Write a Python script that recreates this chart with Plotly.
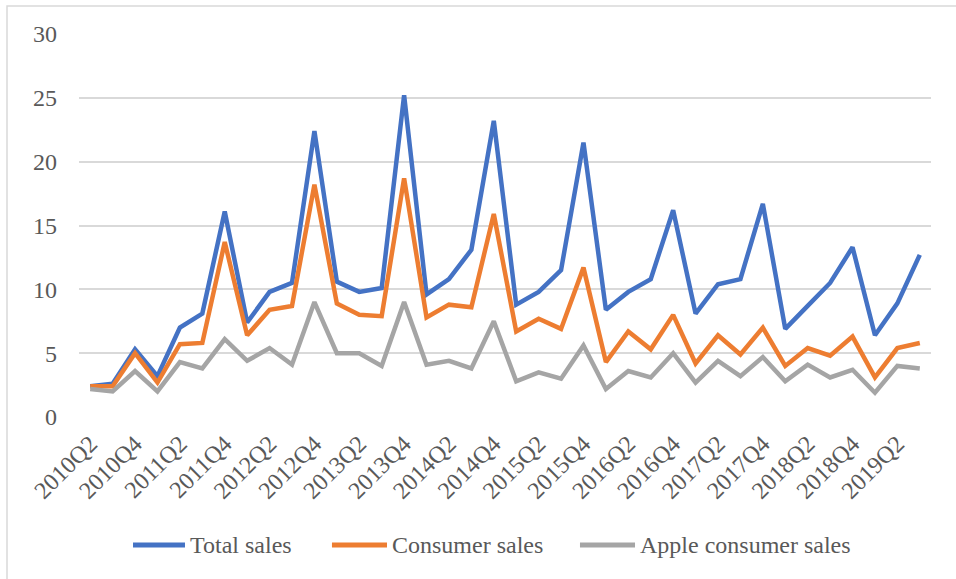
import plotly.graph_objects as go

quarters = [f"{y}Q{q}" for y in range(2010, 2020) for q in range(1, 5)][1:39]

total_sales = [2.4, 2.6, 5.3, 3.2, 7.0, 8.1, 16.1, 7.4, 9.8, 10.5,
               22.4, 10.6, 9.8, 10.1, 25.2, 9.6, 10.8, 13.1, 23.2, 8.8,
               9.8, 11.5, 21.5, 8.4, 9.8, 10.8, 16.2, 8.1, 10.4, 10.8,
               16.7, 6.9, 8.7, 10.5, 13.3, 6.4, 8.9, 12.7]
consumer_sales = [2.4, 2.4, 5.0, 2.7, 5.7, 5.8, 13.7, 6.4, 8.4, 8.7,
                  18.2, 8.9, 8.0, 7.9, 18.7, 7.8, 8.8, 8.6, 15.9, 6.7,
                  7.7, 6.9, 11.7, 4.3, 6.7, 5.3, 8.0, 4.2, 6.4, 4.9,
                  7.0, 4.0, 5.4, 4.8, 6.3, 3.1, 5.4, 5.8]
apple_consumer_sales = [2.2, 2.0, 3.6, 2.0, 4.3, 3.8, 6.1, 4.4, 5.4, 4.1,
                        9.0, 5.0, 5.0, 4.0, 9.0, 4.1, 4.4, 3.8, 7.5, 2.8,
                        3.5, 3.0, 5.6, 2.2, 3.6, 3.1, 5.0, 2.7, 4.4, 3.2,
                        4.7, 2.8, 4.1, 3.1, 3.7, 1.9, 4.0, 3.8]
y_ticks = [0, 5, 10, 15, 20, 25, 30]

series_names = ["Total sales", "Consumer sales", "Apple consumer sales"]
series_values = [total_sales, consumer_sales, apple_consumer_sales]
series_colors = ["#4472C4", "#ED7D31", "#A5A5A5"]

fig = go.Figure()
for name, vals, color in zip(series_names, series_values, series_colors):
    fig.add_trace(go.Scatter(x=quarters, y=vals, name=name, mode="lines",
                             line=dict(color=color, width=4.5), showlegend=False))

font_family = "Liberation Serif"
text_color = "#595959"
fig.update_layout(
    width=956, height=579,
    margin=dict(l=79, r=25, t=34, b=162),
    paper_bgcolor="white", plot_bgcolor="white",
    font=dict(family=font_family, size=24, color=text_color),
    showlegend=False,
    xaxis=dict(type="category", categoryorder="array", categoryarray=quarters,
               tickmode="array", tickvals=quarters[::2], tickangle=-45,
               showgrid=False, zeroline=False, showline=False, ticks="",
               ticklabelstandoff=7,
               range=[-0.5, len(quarters) - 0.5],
               tickfont=dict(family=font_family, size=24, color=text_color)),
    yaxis=dict(range=[0, 30], tickvals=y_ticks, showgrid=True, gridcolor="#D9D9D9",
               gridwidth=1.5, zeroline=False, showline=False, ticks="",
               ticklabelstandoff=21,
               tickfont=dict(family=font_family, size=24, color=text_color)),
)
fig.add_shape(type="rect", xref="paper", yref="paper",
              x0=-0.0845, x1=1.2, y0=-0.6, y1=1.073,
              line=dict(color="#D9D9D9", width=1.5), layer="below")

# custom legend (line sample + label), positioned like the reference
legend_y = -0.334
legend_line_x = [(0.0634, 0.1244), (0.2969, 0.3615), (0.5880, 0.6526)]
for name, color, (lx0, lx1) in zip(series_names, series_colors, legend_line_x):
    fig.add_shape(type="line", xref="paper", yref="paper",
                  x0=lx0, x1=lx1, y0=legend_y, y1=legend_y,
                  line=dict(color=color, width=5))
    fig.add_annotation(xref="paper", yref="paper", x=lx1 + 0.004, y=legend_y,
                       xanchor="left", yanchor="middle", text=name, showarrow=False,
                       font=dict(family=font_family, size=24, color=text_color))

fig.write_html("out.html", config={"displayModeBar": False},
               post_script="document.body.style.margin='0';document.body.style.padding='0';")
